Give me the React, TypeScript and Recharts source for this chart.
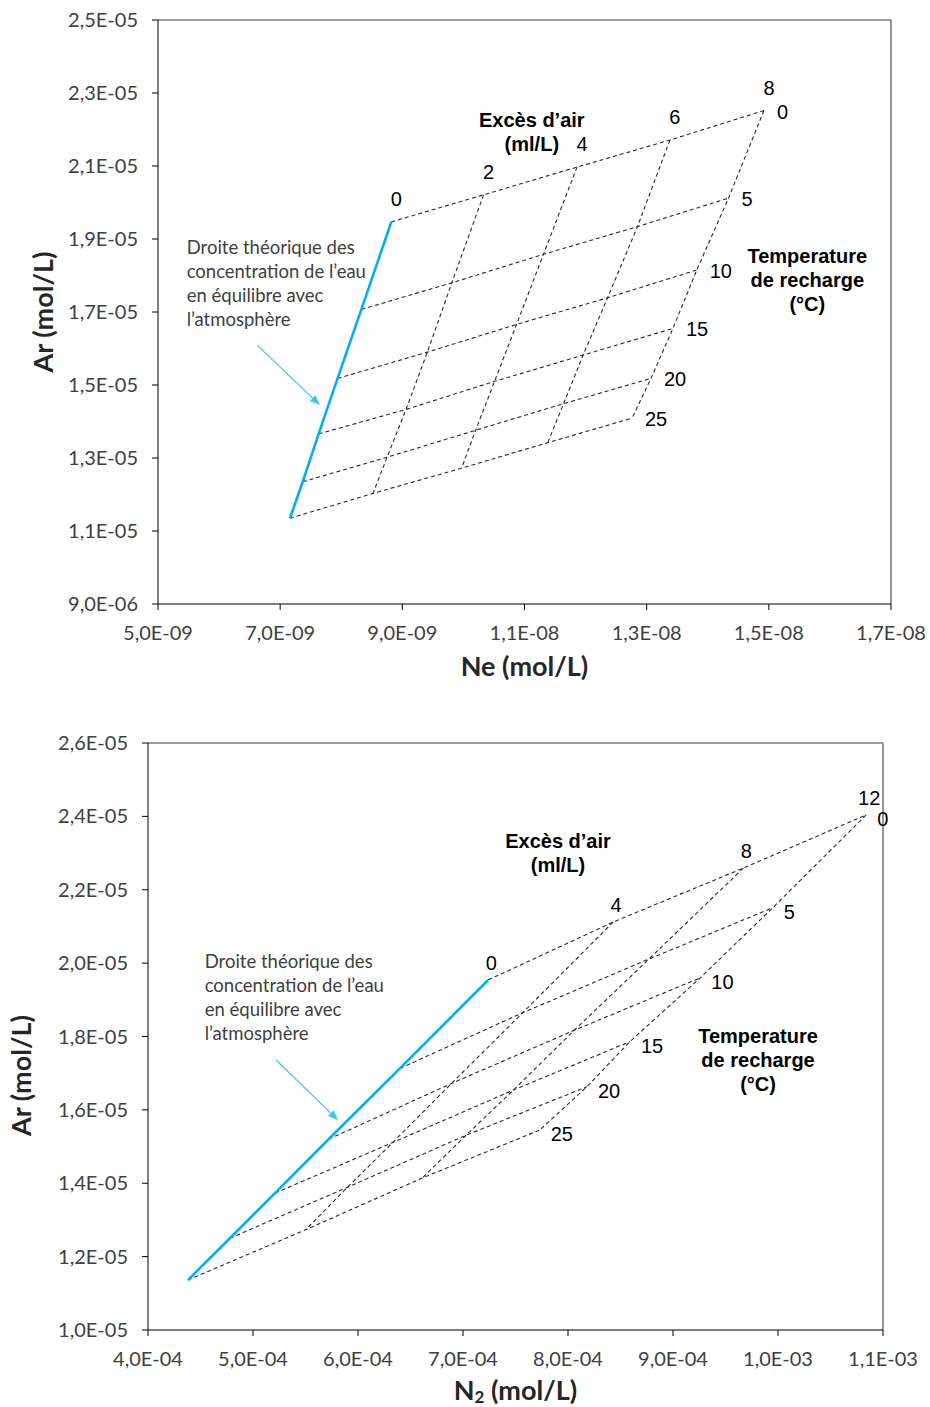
import { LineChart, Line, XAxis, YAxis, ReferenceDot, ReferenceLine } from "recharts";

// recharge temperatures (°C), shared by both diagrams
const tempLevels = [0, 5, 10, 15, 20, 25];

// --- Ne vs Ar : one row per air excess (ml/L), one column per temperature
const neAir = [0, 2, 4, 6, 8];
const neValues = [
  [8.82e-9, 8.33e-9, 7.94e-9, 7.63e-9, 7.37e-9, 7.16e-9],
  [1.033e-8, 9.81e-9, 9.41e-9, 9.06e-9, 8.75e-9, 8.52e-9],
  [1.186e-8, 1.131e-8, 1.087e-8, 1.051e-8, 1.02e-8, 9.97e-9],
  [1.338e-8, 1.285e-8, 1.236e-8, 1.196e-8, 1.164e-8, 1.138e-8],
  [1.492e-8, 1.434e-8, 1.382e-8, 1.343e-8, 1.307e-8, 1.276e-8],
];
const arNeValues = [
  [1.947e-5, 1.707e-5, 1.518e-5, 1.366e-5, 1.235e-5, 1.135e-5],
  [2.021e-5, 1.78e-5, 1.59e-5, 1.433e-5, 1.302e-5, 1.203e-5],
  [2.097e-5, 1.858e-5, 1.666e-5, 1.51e-5, 1.376e-5, 1.272e-5],
  [2.171e-5, 1.934e-5, 1.739e-5, 1.582e-5, 1.449e-5, 1.342e-5],
  [2.252e-5, 2.012e-5, 1.815e-5, 1.655e-5, 1.518e-5, 1.409e-5],
];
const neTicks = [5e-9, 7e-9, 9e-9, 1.1e-8, 1.3e-8, 1.5e-8, 1.7e-8];
const arTicksTop = [9e-6, 1.1e-5, 1.3e-5, 1.5e-5, 1.7e-5, 1.9e-5, 2.1e-5, 2.3e-5, 2.5e-5];

// --- N2 vs Ar
const n2Air = [0, 4, 8, 12];
const n2Values = [
  [7.24e-4, 6.4e-4, 5.72e-4, 5.21e-4, 4.78e-4, 4.38e-4],
  [8.43e-4, 7.57e-4, 6.89e-4, 6.33e-4, 5.9e-4, 5.5e-4],
  [9.67e-4, 8.77e-4, 8.06e-4, 7.48e-4, 7.03e-4, 6.61e-4],
  [1.084e-3, 9.95e-4, 9.26e-4, 8.59e-4, 8.18e-4, 7.73e-4],
];
const arN2Values = [
  [1.954e-5, 1.713e-5, 1.52e-5, 1.373e-5, 1.25e-5, 1.136e-5],
  [2.112e-5, 1.865e-5, 1.672e-5, 1.511e-5, 1.389e-5, 1.273e-5],
  [2.259e-5, 2.011e-5, 1.817e-5, 1.654e-5, 1.531e-5, 1.414e-5],
  [2.404e-5, 2.151e-5, 1.96e-5, 1.786e-5, 1.663e-5, 1.545e-5],
];
const n2Ticks = [4e-4, 5e-4, 6e-4, 7e-4, 8e-4, 9e-4, 1e-3, 1.1e-3];
const arTicksBottom = [1e-5, 1.2e-5, 1.4e-5, 1.6e-5, 1.8e-5, 2e-5, 2.2e-5, 2.4e-5, 2.6e-5];

const droiteLines = ["Droite théorique des", "concentration de l’eau", "en équilibre avec", "l’atmosphère"];

const BLUE = "#00B0F0";
const ARROW = "#3CC3F2";
const DASH = "#2b2b2b";
const calibri = "Lato, 'Open Sans', sans-serif";
const arial = "'Liberation Sans', Arial, sans-serif";

const tickStyle = { fontFamily: calibri, fontSize: 20, fill: "#404040" };

const fmtSci = (v: number) => {
  const [m, e] = v.toExponential(1).split("e");
  const exp = parseInt(e, 10);
  return `${m.replace(".", ",")}E${exp < 0 ? "-" : "+"}${String(Math.abs(exp)).padStart(2, "0")}`;
};

const textShape =
  (lines: string[], opts: { dx?: number; dy?: number; anchor?: string; bold?: boolean; size?: number; family?: string; color?: string; lh?: number }) =>
  (p: any) => {
    const { dx = 0, dy = 0, anchor = "middle", bold = false, size = 20, family = arial, color = "#000", lh = 24 } = opts;
    return (
      <g>
        {lines.map((l, i) => (
          <text
            key={i}
            x={p.cx + dx}
            y={p.cy + dy + i * lh}
            textAnchor={anchor as any}
            dominantBaseline="central"
            fontFamily={family}
            fontSize={size}
            fontWeight={bold ? 700 : 400}
            fill={color}
          >
            {l}
          </text>
        ))}
      </g>
    );
  };

const arrowShape = (p: any) => {
  const { x1, y1, x2, y2 } = p;
  const a = Math.atan2(y2 - y1, x2 - x1);
  const L = 10;
  const W = 4;
  const bx = x2 - L * Math.cos(a);
  const by = y2 - L * Math.sin(a);
  const pts = `${x2},${y2} ${bx - W * Math.sin(a)},${by + W * Math.cos(a)} ${bx + W * Math.sin(a)},${by - W * Math.cos(a)}`;
  return (
    <g>
      <line x1={x1} y1={y1} x2={bx} y2={by} stroke={ARROW} strokeWidth={1.2} />
      <polygon points={pts} fill={ARROW} />
    </g>
  );
};

const XTitle = ({ viewBox, dy, sub }: any) => {
  const x = viewBox.x + viewBox.width / 2;
  const y = viewBox.y + dy;
  return (
    <text x={x} y={y} textAnchor="middle" dominantBaseline="central" fontFamily={calibri} fontSize={27} fontWeight={700} fill="#262626">
      {sub ? (
        <>
          <tspan>N</tspan>
          <tspan fontSize={17} dy={7}>2</tspan>
          <tspan dy={-7}> (mol/L)</tspan>
        </>
      ) : (
        "Ne (mol/L)"
      )}
    </text>
  );
};

const YTitle = ({ viewBox, dx, dy }: any) => {
  const x = viewBox.x + dx;
  const y = viewBox.y + viewBox.height / 2 + dy;
  return (
    <text x={x} y={y} transform={`rotate(-90 ${x} ${y})`} textAnchor="middle" dominantBaseline="central" fontFamily={calibri} fontSize={27} fontWeight={700} fill="#262626">
      Ar (mol/L)
    </text>
  );
};

type Cfg = {
  air: number[];
  xs: number[][];
  ys: number[][];
  xTicks: number[];
  yTicks: number[];
  width: number;
  height: number;
  margin: { top: number; right: number; left: number; bottom: number };
  yWidth: number;
  xHeight: number;
  xTitleDy: number;
  yTitleDx: number;
  yTitleDy: number;
  sub: boolean;
  airLabel: { dx: number; dy: number; anchor: string };
  tempLabel: { dx: number; dy: number; anchor: string };
  airTitle: [number, number];
  tempTitle: [number, number];
  droite: [number, number];
  arrow: [[number, number], [number, number]];
};

function GridChart({ c }: { c: Cfg }) {
  const last = c.air.length - 1;
  const airLines = c.air.map((_, i) => tempLevels.map((_, j) => ({ x: c.xs[i][j], y: c.ys[i][j] })));
  const tempLines = tempLevels.map((_, j) => c.air.map((_, i) => ({ x: c.xs[i][j], y: c.ys[i][j] })));
  return (
    <LineChart width={c.width} height={c.height} margin={c.margin}>
      <XAxis
        type="number"
        dataKey="x"
        domain={[c.xTicks[0], c.xTicks[c.xTicks.length - 1]]}
        ticks={c.xTicks}
        interval={0}
        tickFormatter={fmtSci}
        height={c.xHeight}
        tickSize={6}
        tickMargin={16}
        tick={tickStyle}
        axisLine={{ stroke: "#000" }}
        tickLine={{ stroke: "#000" }}
        allowDataOverflow
        label={<XTitle dy={c.xTitleDy} sub={c.sub} />}
      />
      <YAxis
        type="number"
        domain={[c.yTicks[0], c.yTicks[c.yTicks.length - 1]]}
        ticks={c.yTicks}
        interval={0}
        tickFormatter={fmtSci}
        width={c.yWidth}
        tickSize={6}
        tickMargin={14}
        tick={tickStyle}
        axisLine={{ stroke: "#000" }}
        tickLine={{ stroke: "#000" }}
        allowDataOverflow
        label={<YTitle dx={c.yTitleDx} dy={c.yTitleDy} />}
      />
      <ReferenceLine y={c.yTicks[c.yTicks.length - 1]} stroke="#7a7a7a" strokeWidth={1.6} />
      <ReferenceLine x={c.xTicks[c.xTicks.length - 1]} stroke="#7a7a7a" strokeWidth={1.6} />
      {tempLines.map((d, j) => (
        <Line key={`t${j}`} data={d} dataKey="y" stroke={DASH} strokeWidth={1.1} strokeDasharray="4 3" dot={false} isAnimationActive={false} />
      ))}
      {airLines.map((d, i) =>
        i === 0 ? null : (
          <Line key={`a${i}`} data={d} dataKey="y" stroke={DASH} strokeWidth={1.1} strokeDasharray="4 3" dot={false} isAnimationActive={false} />
        )
      )}
      <Line key="blue" data={airLines[0]} dataKey="y" stroke={BLUE} strokeWidth={2.6} dot={false} isAnimationActive={false} />
      {c.air.map((a, i) => (
        <ReferenceDot key={`al${i}`} x={c.xs[i][0]} y={c.ys[i][0]} r={0} shape={textShape([String(a)], c.airLabel)} />
      ))}
      {tempLevels.map((t, j) => (
        <ReferenceDot key={`tl${j}`} x={c.xs[last][j]} y={c.ys[last][j]} r={0} shape={textShape([String(t)], c.tempLabel)} />
      ))}
      <ReferenceDot x={c.airTitle[0]} y={c.airTitle[1]} r={0} shape={textShape(["Excès d’air", "(ml/L)"], { bold: true })} />
      <ReferenceDot x={c.tempTitle[0]} y={c.tempTitle[1]} r={0} shape={textShape(["Temperature", "de recharge", "(°C)"], { bold: true })} />
      <ReferenceDot
        x={c.droite[0]}
        y={c.droite[1]}
        r={0}
        shape={textShape(droiteLines, { anchor: "start", family: calibri, size: 18.5, color: "#404040" })}
      />
      <ReferenceLine
        segment={[
          { x: c.arrow[0][0], y: c.arrow[0][1] },
          { x: c.arrow[1][0], y: c.arrow[1][1] },
        ]}
        shape={arrowShape}
      />
    </LineChart>
  );
}

const topCfg: Cfg = {
  air: neAir,
  xs: neValues,
  ys: arNeValues,
  xTicks: neTicks,
  yTicks: arTicksTop,
  width: 930,
  height: 700,
  margin: { top: 20, right: 39, left: 0, bottom: 0 },
  yWidth: 158,
  xHeight: 96,
  xTitleDy: 61,
  yTitleDx: 42,
  yTitleDy: 0,
  sub: false,
  airLabel: { dx: 5, dy: -23, anchor: "middle" },
  tempLabel: { dx: 13, dy: 1, anchor: "start" },
  airTitle: [1.112e-8, 2.226e-5],
  tempTitle: [1.563e-8, 1.853e-5],
  droite: [5.47e-9, 1.878e-5],
  arrow: [
    [6.62e-9, 1.61e-5],
    [7.65e-9, 1.445e-5],
  ],
};

const bottomCfg: Cfg = {
  air: n2Air,
  xs: n2Values,
  ys: arN2Values,
  xTicks: n2Ticks,
  yTicks: arTicksBottom,
  width: 930,
  height: 707,
  margin: { top: 43, right: 47, left: 0, bottom: 0 },
  yWidth: 148,
  xHeight: 77,
  xTitleDy: 59,
  yTitleDx: 20,
  yTitleDy: 39,
  sub: true,
  airLabel: { dx: 3, dy: -17, anchor: "middle" },
  tempLabel: { dx: 11, dy: 4, anchor: "start" },
  airTitle: [7.905e-4, 2.333e-5],
  tempTitle: [9.81e-4, 1.801e-5],
  droite: [4.54e-4, 2.006e-5],
  arrow: [
    [5.22e-4, 1.736e-5],
    [5.81e-4, 1.572e-5],
  ],
};

export default function App() {
  return (
    <div style={{ position: "absolute", left: 0, top: 0, width: 930, height: 1407, background: "#fff" }}>
      <div style={{ position: "absolute", left: 0, top: 0 }}>
        <GridChart c={topCfg} />
      </div>
      <div style={{ position: "absolute", left: 0, top: 700 }}>
        <GridChart c={bottomCfg} />
      </div>
    </div>
  );
}
